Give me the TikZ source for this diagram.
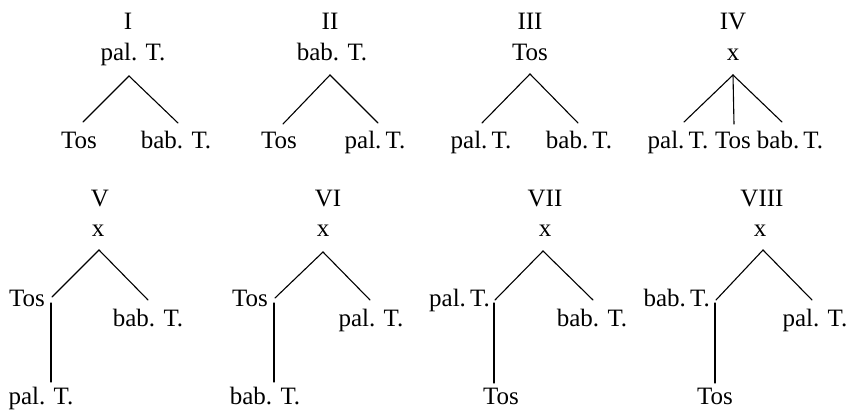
\documentclass[tikz,border=0pt]{standalone}
\usepackage{fontspec}
\setmainfont{Liberation Serif}
\begin{document}
\begin{tikzpicture}[x=1pt,y=-1pt,
  lbl/.style={inner sep=0pt,anchor=base,font=\fontsize{25}{28}\selectfont},
  lble/.style={lbl,anchor=base east},
  br/.style={line width=1.1pt,line cap=round}]
\useasboundingbox (0,0) rectangle (849,411);
% ---------- I ----------
\node[lbl] (n1) at (128,29.5) {I};
\node[lbl] (r1) at (133,61) {pal. T.};
\coordinate (a1) at (129,76);
\coordinate (l1) at (83,122);
\coordinate (m1) at (178,123);
\node[lbl] (c1a) at (79,149) {Tos};
\node[lbl] (c1b) at (176,149) {bab. T.};
\draw[br] (l1) -- (a1) -- (m1);
% ---------- II ----------
\node[lbl] (n2) at (330,29.5) {II};
\node[lbl] (r2) at (332,61) {bab. T.};
\coordinate (a2) at (330,75);
\coordinate (l2) at (283,124);
\coordinate (m2) at (378,123);
\node[lbl] (c2a) at (279,149) {Tos};
\node[lbl] (c2b) at (375,149) {pal.\,T.};
\draw[br] (l2) -- (a2) -- (m2);
% ---------- III ----------
\node[lbl] (n3) at (530,29.5) {III};
\node[lbl] (r3) at (530,61) {Tos};
\coordinate (a3) at (530,74);
\coordinate (l3) at (482,123);
\coordinate (m3) at (578,123);
\node[lbl] (c3a) at (481,149) {pal.\,T.};
\node[lbl] (c3b) at (579,149) {bab.\,T.};
\draw[br] (l3) -- (a3) -- (m3);
% ---------- IV ----------
\node[lbl] (n4) at (733,29.5) {IV};
\node[lbl] (r4) at (733,61) {x};
\coordinate (a4) at (733,75);
\coordinate (l4) at (684,122);
\coordinate (k4) at (734,124);
\coordinate (m4) at (782,122);
\node[lbl] (c4a) at (678,149) {pal.\,T.};
\node[lbl] (c4b) at (733,149) {Tos};
\node[lbl] (c4c) at (790,149) {bab.\,T.};
\draw[br] (l4) -- (a4) -- (m4);
\draw[br] (a4) -- (k4);
% ---------- V ----------
\node[lbl] (n5) at (100,207) {V};
\node[lbl] (r5) at (98,237) {x};
\coordinate (a5) at (99,250);
\coordinate (l5) at (52,297);
\coordinate (m5) at (148,300);
\node[lble] (c5a) at (45,307) {Tos};
\node[lbl] (c5b) at (148,327) {bab. T.};
\coordinate (t5) at (51,303);
\coordinate (b5) at (51,382);
\node[lbl] (c5c) at (41,405) {pal. T.};
\draw[br] (l5) -- (a5) -- (m5);
\draw[br] (t5) -- (b5);
% ---------- VI ----------
\node[lbl] (n6) at (328,207) {VI};
\node[lbl] (r6) at (323,237) {x};
\coordinate (a6) at (323,252);
\coordinate (l6) at (275,298);
\coordinate (m6) at (370,300);
\node[lble] (c6a) at (268,307) {Tos};
\node[lbl] (c6b) at (371,327) {pal. T.};
\coordinate (t6) at (274,303);
\coordinate (b6) at (274,382);
\node[lbl] (c6c) at (265,405) {bab. T.};
\draw[br] (l6) -- (a6) -- (m6);
\draw[br] (t6) -- (b6);
% ---------- VII ----------
\node[lbl] (n7) at (545,207) {VII};
\node[lbl] (r7) at (545,237) {x};
\coordinate (a7) at (543,251);
\coordinate (l7) at (495,300);
\coordinate (m7) at (593,300);
\node[lble] (c7a) at (490,307) {pal.\,T.};
\node[lbl] (c7b) at (592,327) {bab. T.};
\coordinate (t7) at (494,303);
\coordinate (b7) at (494,383);
\node[lbl] (c7c) at (501,405) {Tos};
\draw[br] (l7) -- (a7) -- (m7);
\draw[br] (t7) -- (b7);
% ---------- VIII ----------
\node[lbl] (n8) at (762,207) {VIII};
\node[lbl] (r8) at (760,237) {x};
\coordinate (a8) at (763,250);
\coordinate (l8) at (716,300);
\coordinate (m8) at (812,300);
\node[lble] (c8a) at (710,307) {bab.\,T.};
\node[lbl] (c8b) at (815,327) {pal. T.};
\coordinate (t8) at (715,303);
\coordinate (b8) at (715,383);
\node[lbl] (c8c) at (715,405) {Tos};
\draw[br] (l8) -- (a8) -- (m8);
\draw[br] (t8) -- (b8);
\end{tikzpicture}
\end{document}
